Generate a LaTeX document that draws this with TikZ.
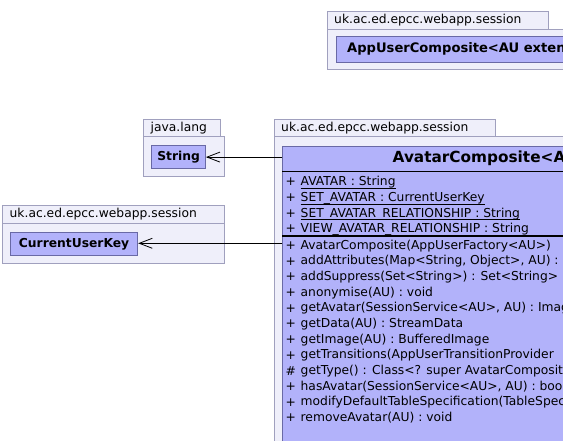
\documentclass[tikz,border=0pt]{standalone}
\usepackage{fontspec}
\setmainfont{DejaVu Sans}
\usetikzlibrary{arrows.meta}
\definecolor{pkgfill}{RGB}{239,239,250}
\definecolor{pkgdraw}{RGB}{160,160,190}
\definecolor{clsfill}{RGB}{178,178,250}
\definecolor{clsdraw}{RGB}{105,105,165}
\newcommand{\fs}{\fontsize{12.3}{14}\selectfont}
\tikzset{
  pkg/.style={draw=pkgdraw, fill=pkgfill, line width=0.9pt},
  pkglabel/.style={anchor=west, inner sep=0pt, font=\fs},
  clsbox/.style={draw=clsdraw, fill=clsfill, line width=0.9pt, anchor=north west, inner sep=0pt, font=\fs\bfseries},
  member/.style={anchor=west, inner sep=0pt, font=\fs},
  attr/.style={anchor=base west, inner sep=0pt, font=\fs},
  dep/.style={draw=black, line width=0.8pt, -{Straight Barb[length=13pt,width=10pt,line width=0.8pt]}}
}
\begin{document}
\begin{tikzpicture}[x=1pt,y=-1pt]
\useasboundingbox (0,0) rectangle (563,441);
\clip (0,0) rectangle (563,441);

% top package
\draw[pkg] (327,11) rectangle (548.7,29.3);
\draw[pkg] (327,29.3) rectangle (620,69.3);
\node[pkglabel] (ptop) at (334,20.3) {uk.ac.ed.epcc.webapp.session};
\node[clsbox, minimum width=300pt, minimum height=26pt] (aucbox) at (335.5,36) {};
\node[member, font=\fontsize{13.1}{15}\selectfont\bfseries] (auc) at (347,49) {AppUserComposite<AU extends};

% java.lang package
\draw[pkg] (143.3,119.5) rectangle (220.7,136.5);
\draw[pkg] (143.3,136.5) rectangle (224.5,176);
\node[pkglabel] (pjava) at (150.5,128) {java.lang};
\node[clsbox, minimum width=53.7pt, minimum height=23.3pt] (string) at (151.3,145) {};
\node[font=\fs\bfseries, inner sep=0pt] (stringtxt) at (string.center) {String};

% CurrentUserKey package
\draw[pkg] (2.7,205.5) rectangle (224,223.5);
\draw[pkg] (2.7,223.5) rectangle (224,263.3);
\node[pkglabel] (pcuk) at (9.5,214.5) {uk.ac.ed.epcc.webapp.session};
\node[clsbox, minimum width=127.3pt, minimum height=22.7pt] (cuk) at (10,232.3) {};
\node[font=\fs\bfseries, inner sep=0pt] (cuktxt) at (cuk.center) {CurrentUserKey};

% main package
\draw[pkg] (274.3,119.3) rectangle (495.7,136.3);
\draw[pkg] (274.3,136.3) rectangle (640,480);
\node[pkglabel] (pmain) at (281,127.8) {uk.ac.ed.epcc.webapp.session};
\node[clsbox, minimum width=340pt, minimum height=320pt] (avc) at (282.3,145.7) {};
\node[member, font=\fontsize{15.3}{18}\selectfont\bfseries] (title) at (392.5,158.5) {AvatarComposite<AU};
\draw[black, line width=0.9pt] (282.3,171) -- (640,171);
\draw[black, line width=2pt] (282.3,236) -- (640,236);

% attributes (baselines)
\foreach \t [count=\i from 0] in {%
  {AVATAR : String},
  {SET\_AVATAR : CurrentUserKey},
  {SET\_AVATAR\_RELATIONSHIP : String},
  {VIEW\_AVATAR\_RELATIONSHIP : String}} {
  \node[attr] (av\i) at (285.5,186+15.6*\i) {+};
  \node[attr] (an\i) at (300.5,186+15.6*\i) {\t};
  \draw[black, line width=0.8pt] ([yshift=-2.6pt]an\i.base west) -- ([yshift=-2.6pt]an\i.base east);
}

% methods
\foreach \v/\t [count=\i from 0] in {%
  +/{AvatarComposite(AppUserFactory<AU>)},
  +/{addAttributes(Map<String, Object>, AU) :},
  +/{addSuppress(Set<String>) : Set<String>},
  +/{anonymise(AU) : void},
  +/{getAvatar(SessionService<AU>, AU) : Image},
  +/{getData(AU) : StreamData},
  +/{getImage(AU) : BufferedImage},
  +/{getTransitions(AppUserTransitionProvider},
  \#/{getType() : Class<? super AvatarComposite},
  +/{hasAvatar(SessionService<AU>, AU) : boolean},
  +/{modifyDefaultTableSpecification(TableSpec},
  +/{removeAvatar(AU) : void}} {
  \node[member] (mv\i) at (285.5,245.8+15.65*\i) {\v};
  \node[member] (mn\i) at (300.5,245.8+15.65*\i) {\t};
}

% dependencies
\draw[dep] (avc.west |- string.east) -- (string.east);
\draw[dep] (avc.west |- 0,243.3) -- (cuk.east |- 0,243.3);
\end{tikzpicture}
\end{document}
